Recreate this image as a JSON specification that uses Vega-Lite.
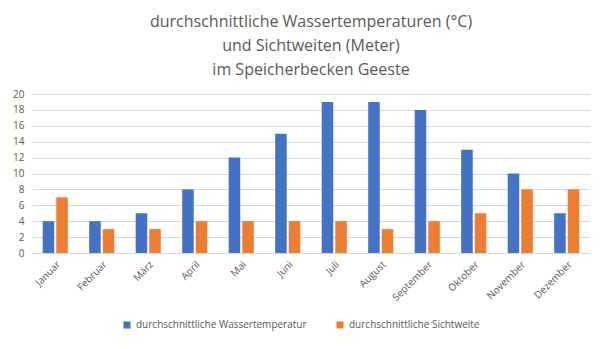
{
  "$schema": "https://vega.github.io/schema/vega-lite/v6.json",
  "autosize": {"type": "none"},
  "width": 558,
  "height": 159,
  "padding": {"left": 32, "top": 94, "right": 15, "bottom": 96},
  "background": "white",
  "title": {
    "text": ["durchschnittliche Wassertemperaturen (°C)", "und Sichtweiten (Meter)", "im Speicherbecken Geeste"],
    "font": "Open Sans",
    "fontSize": 16,
    "fontWeight": "normal",
    "color": "#595959",
    "lineHeight": 24,
    "anchor": "middle",
    "offset": 11
  },
  "data": {
    "values": [
      {"Monat": "Januar", "Serie": "durchschnittliche Wassertemperatur", "Wert": 4},
      {"Monat": "Januar", "Serie": "durchschnittliche Sichtweite", "Wert": 7},
      {"Monat": "Februar", "Serie": "durchschnittliche Wassertemperatur", "Wert": 4},
      {"Monat": "Februar", "Serie": "durchschnittliche Sichtweite", "Wert": 3},
      {"Monat": "März", "Serie": "durchschnittliche Wassertemperatur", "Wert": 5},
      {"Monat": "März", "Serie": "durchschnittliche Sichtweite", "Wert": 3},
      {"Monat": "April", "Serie": "durchschnittliche Wassertemperatur", "Wert": 8},
      {"Monat": "April", "Serie": "durchschnittliche Sichtweite", "Wert": 4},
      {"Monat": "Mai", "Serie": "durchschnittliche Wassertemperatur", "Wert": 12},
      {"Monat": "Mai", "Serie": "durchschnittliche Sichtweite", "Wert": 4},
      {"Monat": "Juni", "Serie": "durchschnittliche Wassertemperatur", "Wert": 15},
      {"Monat": "Juni", "Serie": "durchschnittliche Sichtweite", "Wert": 4},
      {"Monat": "Juli", "Serie": "durchschnittliche Wassertemperatur", "Wert": 19},
      {"Monat": "Juli", "Serie": "durchschnittliche Sichtweite", "Wert": 4},
      {"Monat": "August", "Serie": "durchschnittliche Wassertemperatur", "Wert": 19},
      {"Monat": "August", "Serie": "durchschnittliche Sichtweite", "Wert": 3},
      {"Monat": "September", "Serie": "durchschnittliche Wassertemperatur", "Wert": 18},
      {"Monat": "September", "Serie": "durchschnittliche Sichtweite", "Wert": 4},
      {"Monat": "Oktober", "Serie": "durchschnittliche Wassertemperatur", "Wert": 13},
      {"Monat": "Oktober", "Serie": "durchschnittliche Sichtweite", "Wert": 5},
      {"Monat": "November", "Serie": "durchschnittliche Wassertemperatur", "Wert": 10},
      {"Monat": "November", "Serie": "durchschnittliche Sichtweite", "Wert": 8},
      {"Monat": "Dezember", "Serie": "durchschnittliche Wassertemperatur", "Wert": 5},
      {"Monat": "Dezember", "Serie": "durchschnittliche Sichtweite", "Wert": 8}
    ]
  },
  "mark": {"type": "bar"},
  "encoding": {
    "x": {
      "field": "Monat",
      "type": "nominal",
      "sort": null,
      "scale": {"paddingInner": 0.46, "paddingOuter": 0.23},
      "axis": {
        "title": null,
        "labelAngle": -45,
        "labelFont": "Open Sans",
        "labelFontSize": 10,
        "labelColor": "#595959",
        "ticks": false,
        "domainColor": "#d9d9d9",
        "labelPadding": 6,
        "grid": false
      }
    },
    "xOffset": {
      "field": "Serie",
      "type": "nominal",
      "sort": ["durchschnittliche Wassertemperatur", "durchschnittliche Sichtweite"],
      "scale": {"paddingInner": 0.15}
    },
    "y": {
      "field": "Wert",
      "type": "quantitative",
      "scale": {"domain": [0, 20], "nice": false},
      "axis": {
        "title": null,
        "values": [0, 2, 4, 6, 8, 10, 12, 14, 16, 18, 20],
        "labelFont": "Open Sans",
        "labelFontSize": 10,
        "labelColor": "#595959",
        "ticks": false,
        "domain": false,
        "gridColor": "#d9d9d9",
        "labelPadding": 8
      }
    },
    "color": {
      "field": "Serie",
      "type": "nominal",
      "sort": ["durchschnittliche Wassertemperatur", "durchschnittliche Sichtweite"],
      "scale": {"range": ["#4472C4", "#ED7D31"]},
      "legend": {
        "title": null,
        "orient": "none",
        "legendX": 90,
        "legendY": 226,
        "direction": "horizontal",
        "symbolType": "square",
        "symbolSize": 50,
        "symbolStrokeWidth": 0,
        "labelFont": "Open Sans",
        "labelFontSize": 10,
        "labelColor": "#595959",
        "columnPadding": 28,
        "labelLimit": 300
      }
    }
  },
  "config": {"view": {"stroke": null}}
}
